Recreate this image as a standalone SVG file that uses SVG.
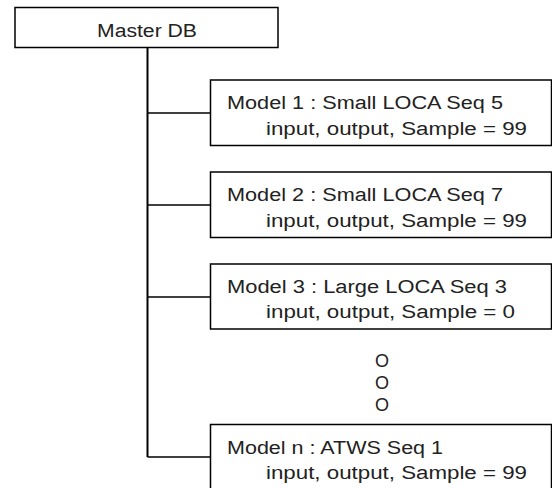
<svg xmlns="http://www.w3.org/2000/svg" width="552" height="488" viewBox="0 0 552 488">
<style>
.box{fill:#fff;stroke:#000;stroke-width:1.5}
.ln{fill:none;stroke:#000;stroke-width:1.5}
.main{fill:none;stroke:#000;stroke-width:2}
text{font-family:"Liberation Sans",Arial,sans-serif;font-size:18px;fill:#222}
</style>
<rect width="552" height="488" fill="#fff"/>
<g id="connectors">
<line class="main" x1="147.5" y1="47" x2="147.5" y2="457"/>
<line class="ln" x1="147.5" y1="113" x2="210.5" y2="113"/>
<line class="ln" x1="147.5" y1="205" x2="210.5" y2="205"/>
<line class="ln" x1="147.5" y1="297" x2="210.5" y2="297"/>
<line class="ln" x1="147.5" y1="457" x2="210.5" y2="457"/>
</g>
<g id="master">
<rect class="box" x="15" y="7.5" width="263" height="40"/>
<text x="97" y="37" textLength="100" lengthAdjust="spacingAndGlyphs">Master DB</text>
</g>
<g id="model1">
<rect class="box" x="210.5" y="80" width="341" height="65.5"/>
<text x="227" y="109" textLength="276" lengthAdjust="spacingAndGlyphs">Model 1 : Small LOCA Seq 5</text>
<text x="266" y="135" textLength="261" lengthAdjust="spacingAndGlyphs">input, output, Sample = 99</text>
</g>
<g id="model2">
<rect class="box" x="210.5" y="172" width="341" height="65.5"/>
<text x="227" y="201" textLength="276" lengthAdjust="spacingAndGlyphs">Model 2 : Small LOCA Seq 7</text>
<text x="266" y="227" textLength="261" lengthAdjust="spacingAndGlyphs">input, output, Sample = 99</text>
</g>
<g id="model3">
<rect class="box" x="210.5" y="264" width="341" height="65"/>
<text x="227" y="293" textLength="280" lengthAdjust="spacingAndGlyphs">Model 3 : Large LOCA Seq 3</text>
<text x="266" y="318" textLength="249" lengthAdjust="spacingAndGlyphs">input, output, Sample = 0</text>
</g>
<g id="ellipsis">
<text x="382" y="367" text-anchor="middle">O</text>
<text x="382" y="389" text-anchor="middle">O</text>
<text x="382" y="411" text-anchor="middle">O</text>
</g>
<g id="modeln">
<rect class="box" x="210.5" y="424.5" width="341" height="70"/>
<text x="227" y="454" textLength="216" lengthAdjust="spacingAndGlyphs">Model n : ATWS Seq 1</text>
<text x="266" y="479" textLength="261" lengthAdjust="spacingAndGlyphs">input, output, Sample = 99</text>
</g>
</svg>
